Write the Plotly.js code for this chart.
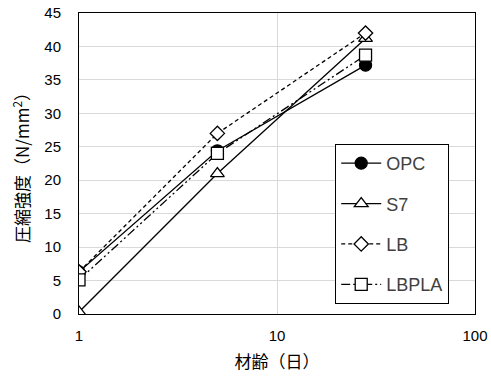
<!DOCTYPE html>
<html>
<head>
<meta charset="utf-8">
<script src="https://cdn.plot.ly/plotly-3.0.1.min.js"></script>
<style>html,body{margin:0;padding:0;background:#fff;}#chart{width:491px;height:382px;}</style>
</head>
<body>
<div id="chart"></div>
<script>
// Curing age in days
const ages = [1, 5, 28];
// Compressive strength (N/mm2) per mix
const opc = [6.3, 24.4, 37.2];
const s7 = [0.3, 21.0, 41.2];
const lb = [6.3, 27.0, 42.0];
const lbpla = [5.1, 24.0, 38.7];
const seriesNames = ['OPC', 'S7', 'LB', 'LBPLA'];
const yTicks = [0, 5, 10, 15, 20, 25, 30, 35, 40, 45];
const xTicks = [1, 10, 100];

const latin = 'Liberation Sans, Arial, sans-serif';
const cjk = 'Noto Sans CJK JP, sans-serif';

function trace(y, name, symbol, dash, fill) {
  return {
    x: ages, y: y, name: name, type: 'scatter', mode: 'lines+markers',
    legendgroup: name,
    line: {color: '#000', width: 1.3, dash: dash},
    marker: {symbol: symbol, size: symbol === 'diamond' ? 11 : 12,
             color: fill ? '#000' : '#fff',
             line: {color: '#000', width: 1.3}}
  };
}

const data = [
  trace(opc, seriesNames[0], 'circle', 'solid', true),
  trace(s7, seriesNames[1], 'triangle-up', 'solid', false),
  trace(lb, seriesNames[2], 'diamond', '4px,3px', false),
  trace(lbpla, seriesNames[3], 'square', '9px,3px,2px,3px,2px,3px', false)
];

const layout = {
  width: 491, height: 382,
  margin: {l: 79, r: 16, t: 13, b: 68},
  paper_bgcolor: '#fff', plot_bgcolor: '#fff',
  font: {family: latin, size: 14, color: '#000'},
  showlegend: true,
  legend: {
    x: 0.647, y: 0.565, xanchor: 'left', yanchor: 'top',
    bgcolor: '#fff', bordercolor: '#000', borderwidth: 1,
    font: {family: latin, size: 18, color: '#404040'},
    tracegroupgap: 14, itemwidth: 40
  },
  xaxis: {
    type: 'log', range: [0, 2],
    tickvals: xTicks, ticktext: xTicks.map(String),
    showgrid: true, gridcolor: '#d9d9d9', gridwidth: 1,
    showline: true, linecolor: '#000', linewidth: 1, mirror: true,
    ticks: 'outside', ticklen: 8, tickcolor: 'rgba(0,0,0,0)',
    tickfont: {family: latin, size: 15, color: '#000'},
    zeroline: false,
    title: {text: '材齢（日）', font: {family: cjk, size: 17, color: '#000'}, standoff: 13}
  },
  yaxis: {
    range: [0, 45],
    tickvals: yTicks,
    showgrid: true, gridcolor: '#d9d9d9', gridwidth: 1,
    showline: true, linecolor: '#000', linewidth: 1, mirror: true,
    ticks: 'outside', ticklen: 14, tickcolor: 'rgba(0,0,0,0)',
    tickfont: {family: latin, size: 15, color: '#000'},
    zeroline: false,
    title: {text: '圧縮強度（N/mm<sup>2</sup>）', font: {family: cjk, size: 17, color: '#000'}, standoff: 10}
  }
};

Plotly.newPlot('chart', data, layout, {displayModeBar: false, staticPlot: true});
</script>
</body>
</html>
